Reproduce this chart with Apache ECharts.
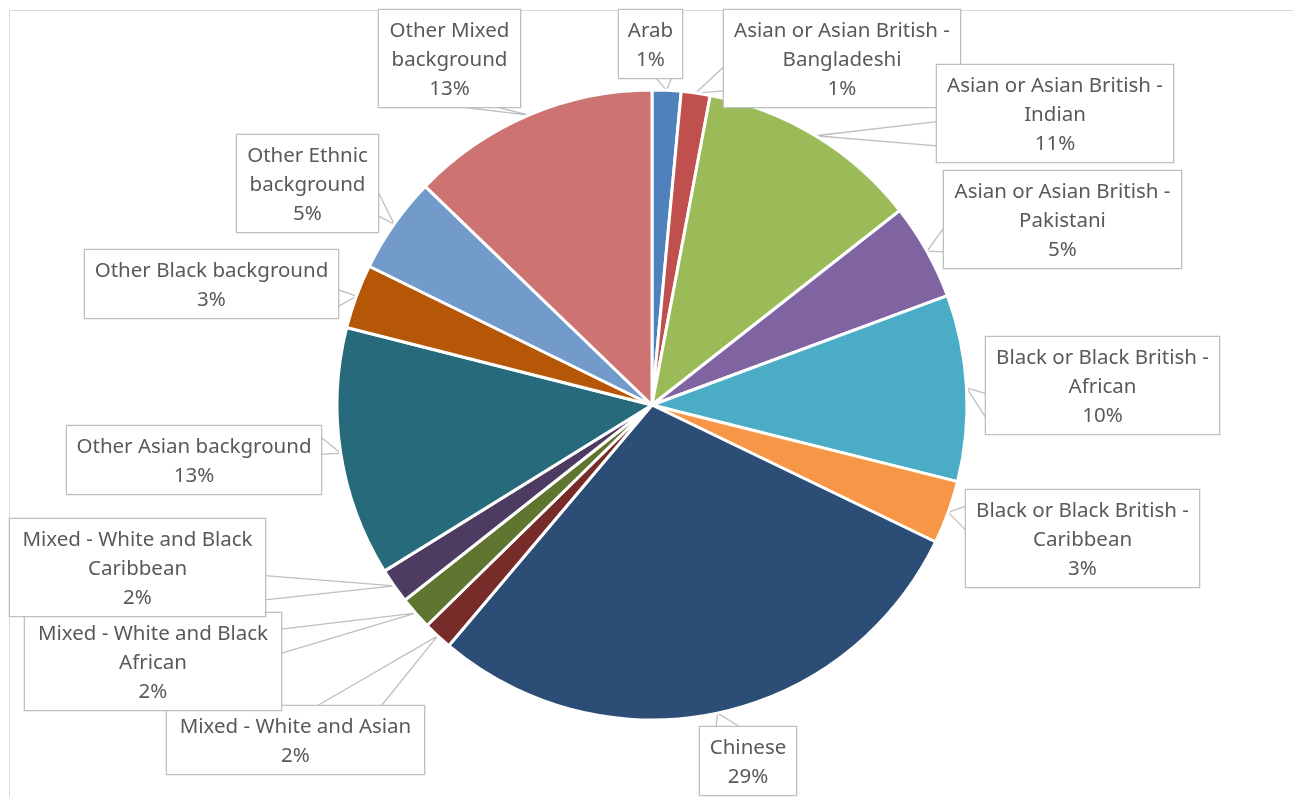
<!DOCTYPE html>
<html>
<head>
<meta charset="utf-8">
<script src="https://cdn.jsdelivr.net/npm/echarts@6/dist/echarts.min.js"></script>
<style>
  html, body { margin: 0; padding: 0; background: #ffffff; }
  #chart { width: 1293px; height: 797px; }
</style>
</head>
<body>
<div id="chart"></div>
<script>
// Ethnic background categories, clockwise from 12 o'clock (line breaks as shown in the callouts)
const categories = [
  'Arab',
  'Asian or Asian British -\nBangladeshi',
  'Asian or Asian British -\nIndian',
  'Asian or Asian British -\nPakistani',
  'Black or Black British -\nAfrican',
  'Black or Black British -\nCaribbean',
  'Chinese',
  'Mixed - White and Asian',
  'Mixed - White and Black\nAfrican',
  'Mixed - White and Black\nCaribbean',
  'Other Asian background',
  'Other Black background',
  'Other Ethnic\nbackground',
  'Other Mixed\nbackground'
];

// Share of each group, in percent
const shares = [1.48, 1.48, 11.45, 4.95, 9.55, 3.25, 29.0, 1.5, 1.7, 1.8, 12.8, 3.3, 4.95, 12.79];

const sliceColors = [
  '#4F81BD', '#C0504D', '#9BBB59', '#8064A2', '#4BACC6', '#F79646', '#2C4D75',
  '#772C2A', '#5F7530', '#4D3B62', '#276A7C', '#B65708', '#729ACA', '#CD7371'
];

// Callout boxes: [left, top, width] in px
const calloutBoxes = [
  [619, 10, 63],
  [724, 10, 236],
  [937, 65, 236],
  [944, 171, 237],
  [986, 337, 233],
  [966, 490, 233],
  [700, 727, 96],
  [167, 706, 257],
  [25, 613, 256],
  [10, 519, 255],
  [67, 426, 254],
  [85, 250, 253],
  [237, 135, 141],
  [379, 10, 141]
];

const PAD_X = 6, PAD_TOP = 7, PAD_BOTTOM = 3, LINE_H = 29;

// Wedge-shaped callout pointer: base sits on the box side facing the tip,
// spanning 2/12..5/12 or 7/12..10/12 of that side.
function wedgePoints(box, h, tip) {
  const [l, t, w] = box;
  const cx = l + w / 2, cy = t + h / 2;
  const dx = tip[0] - cx, dy = tip[1] - cy;
  const dq = dx * h / w;
  let a, b;
  if (Math.abs(dq) - Math.abs(dy) > 0) {
    const x = dx > 0 ? l + w : l;
    const g1 = dy > 0 ? 7 : 2, g2 = dy > 0 ? 10 : 5;
    a = [x, t + h * g1 / 12];
    b = [x, t + h * g2 / 12];
  } else {
    const y = dy > 0 ? t + h : t;
    const g1 = dx > 0 ? 7 : 2, g2 = dx > 0 ? 10 : 5;
    a = [l + w * g1 / 12, y];
    b = [l + w * g2 / 12, y];
  }
  return [a, tip, b];
}

const chart = echarts.init(document.getElementById('chart'), null, { renderer: 'canvas' });

const seriesData = categories.map((name, i) => ({
  name: name,
  value: shares[i],
  itemStyle: { color: sliceColors[i] },
  label: { width: calloutBoxes[i][2] - 2 * PAD_X }
}));

chart.setOption({
  animation: false,
  backgroundColor: '#ffffff',
  graphic: [{
    type: 'rect',
    left: 9, top: 10, z: -10,
    shape: { x: 0, y: 0, width: 1300, height: 800 },
    style: { fill: '#ffffff', stroke: '#d9d9d9', lineWidth: 1 },
    silent: true
  }],
  series: [{
    type: 'pie',
    center: [652, 405],
    radius: 315,
    startAngle: 90,
    clockwise: true,
    avoidLabelOverlap: false,
    data: seriesData,
    itemStyle: { borderColor: '#ffffff', borderWidth: 3 },
    label: {
      show: true,
      position: 'outside',
      formatter: p => p.name + '\n' + Math.round(p.value) + '%',
      fontFamily: 'Noto Sans',
      fontSize: 20.5,
      lineHeight: LINE_H,
      color: '#595959',
      align: 'center',
      backgroundColor: '#ffffff',
      borderColor: '#bfbfbf',
      borderWidth: 1.3,
      padding: [PAD_TOP, PAD_X, PAD_BOTTOM, PAD_X]
    },
    labelLine: {
      show: true,
      length: 10,
      length2: 10,
      smooth: false,
      lineStyle: { color: '#bfbfbf', width: 1.3 }
    },
    labelLayout: function (p) {
      const box = calloutBoxes[p.dataIndex];
      const lines = categories[p.dataIndex].split('\n').length + 1;
      const h = lines * LINE_H + PAD_TOP + PAD_BOTTOM;
      const out = {
        x: box[0] + box[2] / 2,
        y: box[1],
        align: 'center',
        verticalAlign: 'top'
      };
      if (p.labelLinePoints && p.labelLinePoints.length) {
        out.labelLinePoints = wedgePoints(box, h, p.labelLinePoints[0]);
      }
      return out;
    }
  }]
});
</script>
</body>
</html>
